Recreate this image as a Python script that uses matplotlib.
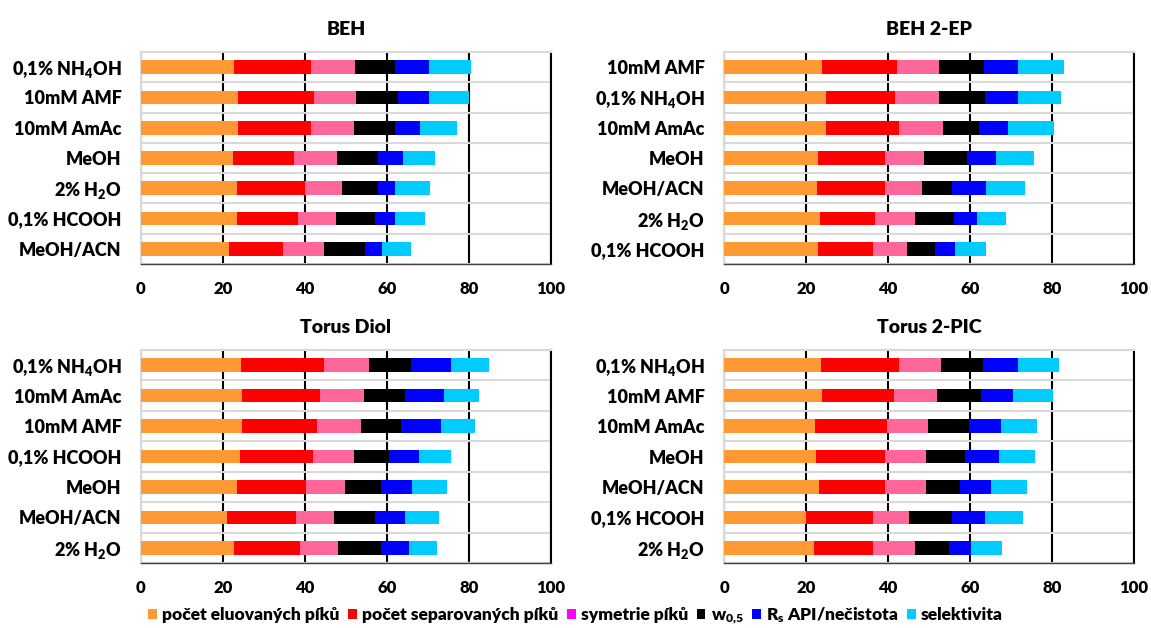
import matplotlib
matplotlib.use("Agg")
import matplotlib.pyplot as plt
from matplotlib.patches import Patch
import numpy as np

WEIGHT = 'heavy'
plt.rcParams['font.family'] = ['Lato', 'DejaVu Sans']
plt.rcParams['font.weight'] = WEIGHT
plt.rcParams['mathtext.fontset'] = 'custom'
plt.rcParams['mathtext.rm'] = 'Lato:heavy'
plt.rcParams['mathtext.it'] = 'Lato:heavy'
plt.rcParams['mathtext.bf'] = 'Lato:heavy'

series_names = ["počet eluovaných píků", "počet separovaných píků", "symetrie píků",
                r"w$_{0{,}5}$", r"R$_s$ API/nečistota", "selektivita"]
bar_colors = ["#FF9933", "#FF0000", "#FF6699", "#000000", "#0000FF", "#00CCFF"]
legend_colors = ["#FF9933", "#FF0000", "#FF00FF", "#000000", "#0000FF", "#00CCFF"]

titles = ["BEH", "BEH 2-EP", "Torus Diol", "Torus 2-PIC"]

NH4OH = r"0,1% NH$_4$OH"
H2O = r"2% H$_2$O"

# ---- BEH ----
beh_cats = [NH4OH, "10mM AMF", "10mM AmAc", "MeOH", H2O, "0,1% HCOOH", "MeOH/ACN"]
beh_eluovane = [22.7, 23.7, 23.7, 22.5, 23.3, 23.3, 21.4]
beh_separovane = [18.7, 18.5, 17.7, 14.9, 16.7, 15.1, 13.3]
beh_symetrie = [10.8, 10.3, 10.5, 10.4, 9.1, 9.1, 10.0]
beh_w05 = [9.8, 10.1, 10.1, 10.1, 8.6, 9.5, 10.0]
beh_rs = [8.3, 7.7, 6.0, 6.0, 4.3, 4.9, 4.2]
beh_selektivita = [10.3, 9.6, 9.1, 7.9, 8.5, 7.3, 7.0]

# ---- BEH 2-EP ----
ep_cats = ["10mM AMF", NH4OH, "10mM AmAc", "MeOH", "MeOH/ACN", H2O, "0,1% HCOOH"]
ep_eluovane = [24.0, 24.9, 24.9, 22.9, 22.8, 23.3, 22.9]
ep_separovane = [18.1, 16.9, 17.8, 16.3, 16.4, 13.5, 13.4]
ep_symetrie = [10.4, 10.7, 10.6, 9.6, 9.1, 9.9, 8.4]
ep_w05 = [10.9, 11.2, 8.8, 10.5, 7.3, 9.5, 6.8]
ep_rs = [8.4, 8.1, 7.1, 7.0, 8.4, 5.4, 4.9]
ep_selektivita = [11.2, 10.4, 11.2, 9.3, 9.3, 7.3, 7.5]

# ---- Torus Diol ----
diol_cats = [NH4OH, "10mM AmAc", "10mM AMF", "0,1% HCOOH", "MeOH", "MeOH/ACN", H2O]
diol_eluovane = [24.5, 24.7, 24.7, 24.1, 23.5, 21.0, 22.7]
diol_separovane = [20.2, 19.0, 18.3, 17.8, 16.8, 16.7, 16.1]
diol_symetrie = [10.8, 10.8, 10.7, 10.1, 9.4, 9.4, 9.2]
diol_w05 = [10.4, 9.9, 9.6, 8.4, 8.9, 9.9, 10.6]
diol_rs = [9.6, 9.5, 9.9, 7.3, 7.6, 7.5, 6.8]
diol_selektivita = [9.3, 8.5, 8.3, 8.0, 8.5, 8.1, 6.8]

# ---- Torus 2-PIC ----
pic_cats = [NH4OH, "10mM AMF", "10mM AmAc", "MeOH", "MeOH/ACN", "0,1% HCOOH", H2O]
pic_eluovane = [23.6, 23.8, 22.2, 22.5, 23.2, 19.9, 21.9]
pic_separovane = [19.2, 17.7, 17.5, 16.7, 16.0, 16.5, 14.5]
pic_symetrie = [10.2, 10.5, 10.0, 10.1, 10.1, 8.8, 10.1]
pic_w05 = [10.2, 10.7, 10.1, 9.6, 8.2, 10.4, 8.3]
pic_rs = [8.4, 7.8, 7.7, 8.2, 7.7, 8.1, 5.5]
pic_selektivita = [10.1, 9.7, 8.9, 8.8, 8.6, 9.2, 7.5]

panels = [
    (beh_cats, [beh_eluovane, beh_separovane, beh_symetrie, beh_w05, beh_rs, beh_selektivita]),
    (ep_cats, [ep_eluovane, ep_separovane, ep_symetrie, ep_w05, ep_rs, ep_selektivita]),
    (diol_cats, [diol_eluovane, diol_separovane, diol_symetrie, diol_w05, diol_rs, diol_selektivita]),
    (pic_cats, [pic_eluovane, pic_separovane, pic_symetrie, pic_w05, pic_rs, pic_selektivita]),
]

W, H = 1151, 628
fig = plt.figure(figsize=(W / 100, H / 100), dpi=100)

# axes boxes in pixels: (left, top, right, bottom)
boxes = [(141, 52, 551, 264), (724, 52, 1134, 264),
         (141, 350, 551, 563), (724, 350, 1134, 563)]

for (cats, vals), title, (l, t, r, b) in zip(panels, titles, boxes):
    ax = fig.add_axes([l / W, 1 - b / H, (r - l) / W, (b - t) / H])
    y = np.arange(len(cats))
    left = np.zeros(len(cats))
    for v, c in zip(vals, bar_colors):
        v = np.array(v)
        ax.barh(y, v, left=left, height=0.45, color=c, edgecolor='none', zorder=3)
        left += v
    ax.set_xlim(0, 100)
    ax.set_ylim(len(cats) - 0.5, -0.5)
    ax.set_xticks(np.arange(0, 101, 20))
    ax.set_yticks(y)
    ax.set_yticklabels(cats)
    ax.set_yticks(np.arange(-0.5, len(cats), 1.0), minor=True)
    ax.tick_params(axis='both', which='both', length=0)
    ax.tick_params(axis='y', which='major', pad=14, labelsize=13)
    ax.tick_params(axis='x', which='major', pad=12, labelsize=12)
    ax.grid(axis='y', which='minor', color='#D9D9D9', linewidth=1.5, zorder=1)
    ax.grid(axis='x', which='major', color='#000000', linewidth=1.5, zorder=2)
    ax.grid(axis='y', which='major', visible=False)
    for lab in ax.get_xticklabels() + ax.get_yticklabels():
        lab.set_fontweight(WEIGHT)
    ax.spines['top'].set_color('#D9D9D9')
    ax.spines['top'].set_linewidth(1.5)
    ax.spines['left'].set_color('#D9D9D9')
    ax.spines['left'].set_linewidth(1.5)
    ax.spines['right'].set_color('#000000')
    ax.spines['right'].set_linewidth(1.5)
    ax.spines['bottom'].set_color('#404040')
    ax.spines['bottom'].set_linewidth(1.0)
    ax.set_title(title, fontsize=14, fontweight=WEIGHT, pad=12)

handles = [Patch(facecolor=c, edgecolor='none') for c in legend_colors]
fig.legend(handles, series_names, loc='center', bbox_to_anchor=(0.5, 0.02),
           ncol=6, frameon=False, handlelength=0.5, handleheight=0.5,
           handletextpad=0.3, columnspacing=0.5, prop={'weight': WEIGHT, 'size': 12.5},
           borderpad=0.1)

fig.savefig("out.png", dpi=100)
